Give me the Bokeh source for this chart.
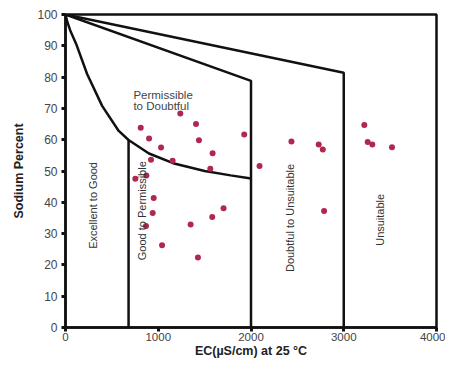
import math
from bokeh.plotting import figure
from bokeh.models import Range1d, FixedTicker, ColumnDataSource
from bokeh.core.properties import value
from bokeh.embed import file_html
from bokeh.resources import INLINE

# Sample data: EC (uS/cm) and Sodium percent
ec = [811, 901, 1030, 1238, 1407, 1439, 1586, 922, 1155, 1561, 753, 872,
      951, 940, 868, 1041, 1349, 1428, 1582, 1704,
      1927, 2436, 2730, 2774, 2092, 3222, 3258, 3308, 3520, 2788]
na = [63.8, 60.4, 57.5, 68.4, 65.0, 59.8, 55.7, 53.6, 53.3, 50.7, 47.5, 48.6,
      41.4, 36.6, 32.4, 26.3, 32.9, 22.4, 35.3, 38.1,
      61.7, 59.4, 58.5, 56.9, 51.6, 64.7, 59.3, 58.5, 57.6, 37.2]

# Class boundary lines of the Wilcox diagram
curve_x = [0, 20, 50, 115, 233, 395, 574, 680, 900, 1160, 1500, 1780, 2000]
curve_y = [100, 97.6, 95.0, 90.6, 81.0, 70.8, 62.8, 59.9, 55.6, 52.5, 50.0, 48.6, 47.6]
good_x = [680, 680]
good_y = [0, 59.9]
doubt_x = [0, 2000, 2000]
doubt_y = [100, 78.8, 0]
unsuit_x = [0, 3000, 3000]
unsuit_y = [100, 81.4, 0]

y_ticks = [0, 10, 20, 30, 40, 50, 60, 70, 80, 90, 100]
x_ticks = [0, 1000, 2000, 3000, 4000]

zone_labels = ["Excellent to Good", "Good to Permissible", "Doubtful to Unsuitable", "Unsuitable"]
zone_x = [301, 826, 2422, 3391]
zone_y = [39.0, 37.3, 35.0, 34.4]

perm_labels = ["Permissible", "to Doubtful"]
perm_x = [732, 732]
perm_y = [76.3, 72.8]

p = figure(width=445, height=360, output_backend="svg", toolbar_location=None,
           x_range=Range1d(0, 4000), y_range=Range1d(0, 100),
           min_border_left=65, min_border_right=9, min_border_top=14, min_border_bottom=28)
p.background_fill_color = "white"
p.border_fill_color = "white"
p.xgrid.visible = False
p.ygrid.visible = False
p.outline_line_color = "#111111"
p.outline_line_width = 2.5
p.outline_line_alpha = 1.0

for ax in (p.xaxis[0], p.yaxis[0]):
    ax.axis_line_color = "#111111"
    ax.axis_line_width = 2.5
    ax.major_tick_line_color = "#111111"
    ax.major_tick_line_width = 3
    ax.major_tick_out = 4
    ax.major_tick_in = 0
    ax.minor_tick_line_color = None
    ax.major_label_text_font = "Liberation Sans"
    ax.major_label_text_font_size = "12px"
    ax.major_label_text_color = "#444444"
    ax.axis_label_text_font = "Liberation Sans"
    ax.axis_label_text_font_style = "bold"
    ax.axis_label_text_font_size = "12.5px"
    ax.axis_label_text_color = "#222222"

p.xaxis.ticker = FixedTicker(ticks=x_ticks)
p.yaxis.ticker = FixedTicker(ticks=y_ticks)
p.xaxis.axis_label = "EC(\u00b5S/cm) at 25 \u00b0C"
p.yaxis.axis_label = "Sodium Percent"
p.xaxis.major_label_text_font_size = "11.5px"
p.xaxis.major_label_standoff = 1
p.xaxis.axis_label_standoff = 0
p.yaxis.major_label_standoff = 4
p.yaxis.axis_label_standoff = 8

lw = 2.5
col = "#111111"
p.line(curve_x, curve_y, line_width=lw, line_color=col)
p.line(good_x, good_y, line_width=lw, line_color=col)
p.line(doubt_x, doubt_y, line_width=lw, line_color=col)
p.line(unsuit_x, unsuit_y, line_width=lw, line_color=col)

p.scatter(ec, na, size=6, fill_color="#b0284e", line_color=None)

zsrc = ColumnDataSource(dict(x=zone_x, y=zone_y, t=zone_labels))
p.text(x="x", y="y", text="t", source=zsrc, angle=math.pi / 2,
       text_align="center", text_baseline="middle",
       text_font=value("Liberation Sans"), text_font_size="11px", text_color="#333333")

psrc = ColumnDataSource(dict(x=perm_x, y=perm_y, t=perm_labels))
p.text(x="x", y="y", text="t", source=psrc,
       text_align="left", text_baseline="top",
       text_font=value("Liberation Sans"), text_font_size="11.5px", text_color="#444444")

open("out.html", "w").write(file_html(p, INLINE))
